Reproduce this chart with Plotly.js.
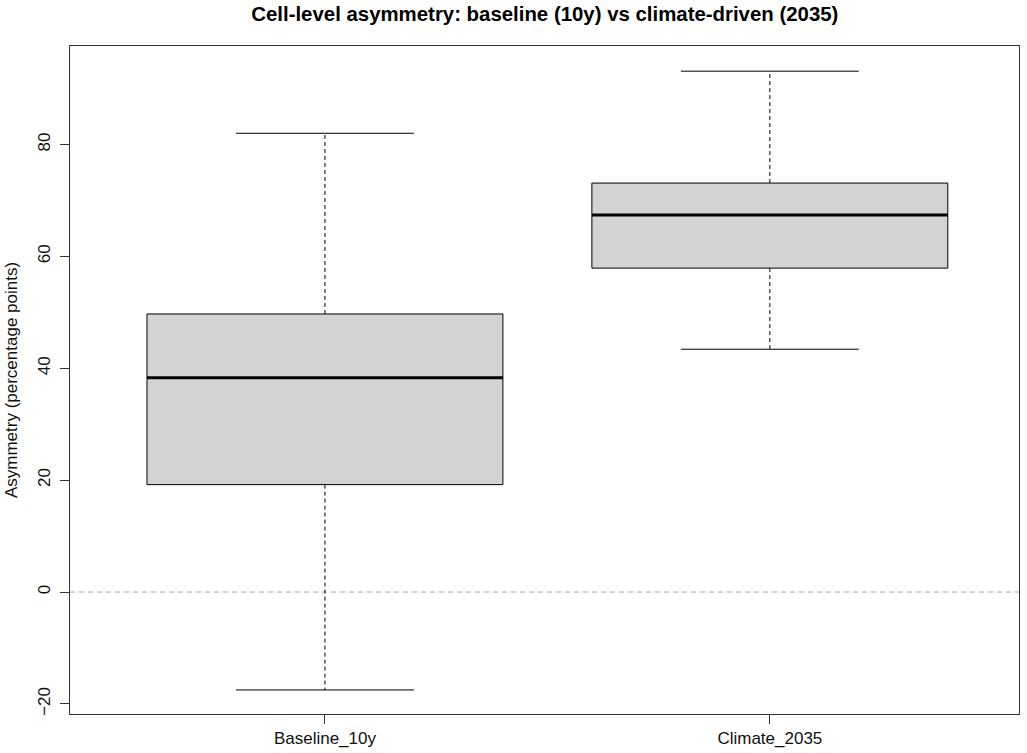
<!DOCTYPE html>
<html>
<head>
<meta charset="utf-8">
<script src="https://cdn.plot.ly/plotly-3.0.1.min.js"></script>
<style>html,body{margin:0;padding:0;background:#fff;}#chart{width:1027px;height:753px;}</style>
</head>
<body>
<div id="chart"></div>
<script>
// ---- data ----
const categories = ['Baseline_10y', 'Climate_2035'];
const lowerWhisker = [-17.5, 43.4];
const q1 = [19.2, 57.9];
const median = [38.3, 67.4];
const q3 = [49.7, 73.1];
const upperWhisker = [82.0, 93.1];
const yTickVals = [-20, 0, 20, 40, 60, 80];
const refLineY = [0];

// ---- drawing ----
const FONT = 'Liberation Sans, Arial, sans-serif';
const boxHalf = 0.4, stapleHalf = 0.2;
const traces = [];

categories.forEach((c, i) => {
  const p = i + 1;
  // dashed whiskers
  traces.push({
    type: 'scatter', mode: 'lines', hoverinfo: 'skip', showlegend: false,
    x: [p, p, null, p, p],
    y: [q3[i], upperWhisker[i], null, q1[i], lowerWhisker[i]],
    line: {color: '#000', width: 1, dash: '4px,3px'}
  });
  // staples
  traces.push({
    type: 'scatter', mode: 'lines', hoverinfo: 'skip', showlegend: false,
    x: [p - stapleHalf, p + stapleHalf, null, p - stapleHalf, p + stapleHalf],
    y: [upperWhisker[i], upperWhisker[i], null, lowerWhisker[i], lowerWhisker[i]],
    line: {color: '#000', width: 1}
  });
  // box
  traces.push({
    type: 'scatter', mode: 'lines', hoverinfo: 'skip', showlegend: false,
    x: [p - boxHalf, p + boxHalf, p + boxHalf, p - boxHalf, p - boxHalf],
    y: [q1[i], q1[i], q3[i], q3[i], q1[i]],
    fill: 'toself', fillcolor: '#d3d3d3',
    line: {color: '#000', width: 1}
  });
  // median
  traces.push({
    type: 'scatter', mode: 'lines', hoverinfo: 'skip', showlegend: false,
    x: [p - boxHalf, p + boxHalf],
    y: [median[i], median[i]],
    line: {color: '#000', width: 3}
  });
});

const layout = {
  width: 1027, height: 753,
  margin: {l: 70, r: 8, t: 46, b: 39},
  paper_bgcolor: '#fff', plot_bgcolor: '#fff',
  font: {family: FONT, size: 17, color: '#111'},
  showlegend: false,
  title: {
    text: '<b>Cell-level asymmetry: baseline (10y) vs climate-driven (2035)</b>',
    font: {family: FONT, size: 20.4, color: '#000'},
    x: 0.5305, xref: 'container', xanchor: 'center',
    y: 1 - 14 / 753, yref: 'container', yanchor: 'middle'
  },
  xaxis: {
    range: [0.427, 2.56], tickmode: 'array', tickvals: [1, 2], ticktext: categories,
    showline: true, mirror: true, linecolor: '#333', linewidth: 1,
    ticks: 'outside', ticklen: 9, tickcolor: '#333', tickwidth: 1,
    showgrid: false, zeroline: false, fixedrange: true,
    tickfont: {family: FONT, size: 17, color: '#111'}
  },
  yaxis: {
    range: [-21.8, 97.6], tickmode: 'array', tickvals: yTickVals,
    showline: true, mirror: true, linecolor: '#333', linewidth: 1,
    ticks: 'outside', ticklen: 9, tickcolor: '#333', tickwidth: 1,
    tickangle: -90, ticklabelstandoff: 3,
    showgrid: false, zeroline: false, fixedrange: true,
    tickfont: {family: FONT, size: 17, color: '#111'},
    title: {text: 'Asymmetry (percentage points)', font: {family: FONT, size: 17, color: '#111'}, standoff: 13}
  },
  shapes: [{
    type: 'line', xref: 'paper', x0: 0, x1: 1, yref: 'y', y0: refLineY[0], y1: refLineY[0],
    line: {color: '#aaaaaa', width: 1, dash: '5px,4px'}, layer: 'below'
  }]
};

Plotly.newPlot('chart', traces, layout, {displayModeBar: false, staticPlot: true});
</script>
</body>
</html>
